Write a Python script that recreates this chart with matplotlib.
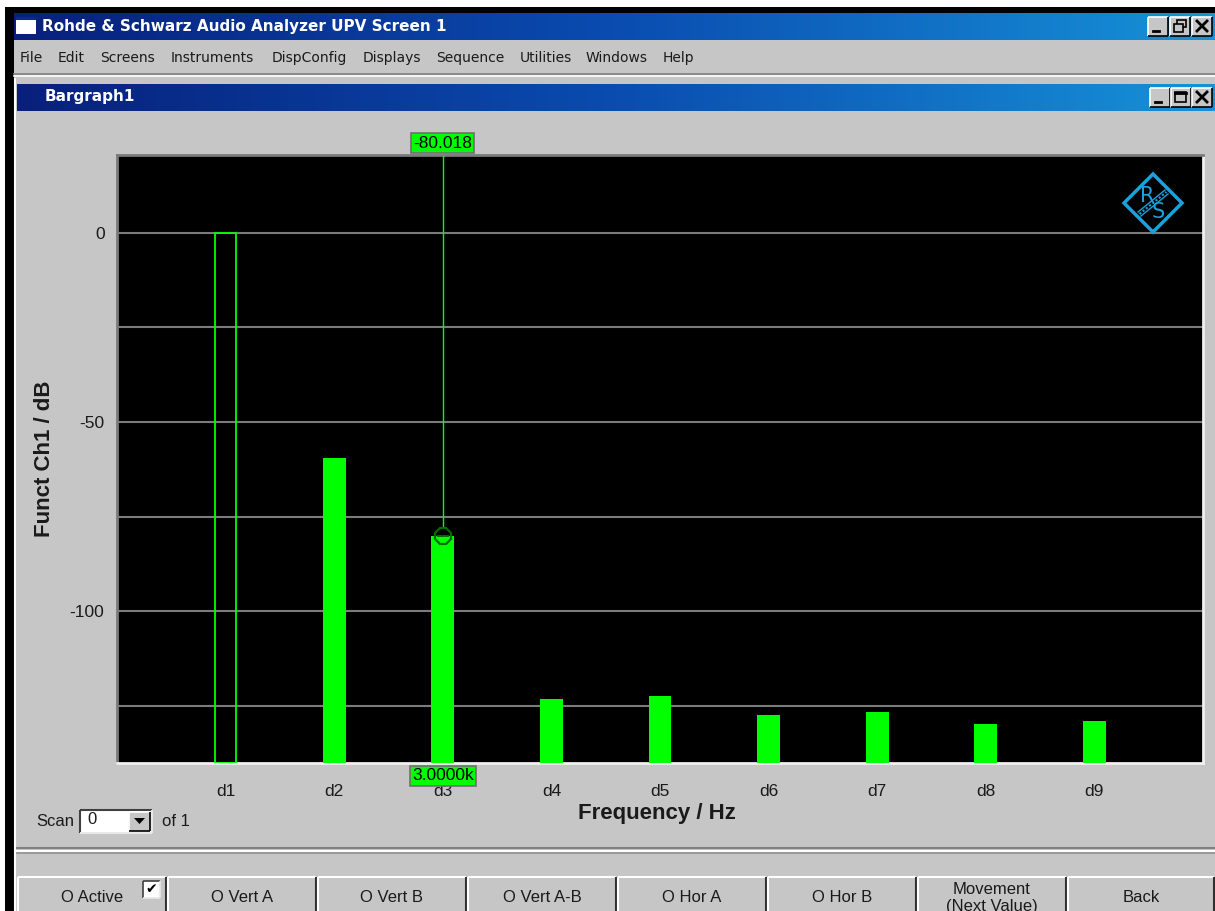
import numpy as np
import matplotlib
matplotlib.use("Agg")
from matplotlib import pyplot as plt
from matplotlib.patches import Rectangle, Polygon
from matplotlib.colors import LinearSegmentedColormap

# harmonic levels (dB)
harmonics = ["d1", "d2", "d3", "d4", "d5", "d6", "d7", "d8", "d9"]
level_db = [0.0, -59.6, -80.018, -123.2, -122.4, -127.4, -126.6, -129.8, -129.0]
fundamental_hz = 1000.0
cursor_index = 2

grid_ticks = [0, -25, -50, -75, -100, -125]
label_ticks = [0, -50, -100]
y_min, y_max = -140, 20.5

menu_items = ["File", "Edit", "Screens", "Instruments", "DispConfig", "Displays",
              "Sequence", "Utilities", "Windows", "Help"]
menu_x = [20, 58, 100, 171, 272, 363, 436, 520, 586, 663]
buttons = ["O Active", "O Vert A", "O Vert B", "O Vert A-B", "O Hor A", "O Hor B",
           "Movement\n(Next Value)", "Back"]

W, H = 1215, 911
GRAY = "#c6c6c6"
GREEN = "#00ff00"
TXT = "#1a1a1a"
UIFONT = "Liberation Sans"

fig = plt.figure(figsize=(W / 100, H / 100), dpi=100)
bg = fig.add_axes([0, 0, 1, 1], zorder=0)
bg.axis("off")


def rect(x0, y0, x1, y1, color, **kw):
    bg.add_patch(Rectangle((x0, y0), x1 - x0, y1 - y0, facecolor=color, edgecolor="none", **kw))


def bevel(x0, y0, x1, y1, light="white", dark="#808080", lw=1.5):
    bg.plot([x0, x1], [y0, y0], color=light, lw=lw, solid_capstyle="butt")
    bg.plot([x0, x0], [y0, y1], color=light, lw=lw, solid_capstyle="butt")
    bg.plot([x0, x1], [y1, y1], color=dark, lw=lw, solid_capstyle="butt")
    bg.plot([x1, x1], [y0, y1], color=dark, lw=lw, solid_capstyle="butt")


def win_button(x0, y0, kind):
    x1, y1 = x0 + 20, y0 + 19
    rect(x0, y0, x1, y1, GRAY)
    bevel(x0, y0, x1, y1, light="white", dark="black", lw=1.2)
    if kind == "min":
        bg.plot([x0 + 5, x0 + 11], [y1 - 5, y1 - 5], color="black", lw=2)
    elif kind == "max":
        bg.add_patch(Rectangle((x0 + 4, y0 + 4), 11, 10, fill=False, ec="black", lw=1.2))
        bg.plot([x0 + 4, x0 + 15], [y0 + 4.5, y0 + 4.5], color="black", lw=2)
    elif kind == "restore":
        bg.add_patch(Rectangle((x0 + 7, y0 + 3), 9, 7, fill=False, ec="black", lw=1.2))
        rect(x0 + 4, y0 + 7, x0 + 13, y0 + 15, GRAY)
        bg.add_patch(Rectangle((x0 + 4, y0 + 7), 9, 8, fill=False, ec="black", lw=1.2))
    else:
        bg.plot([x0 + 5, x0 + 15], [y0 + 4, y0 + 14], color="black", lw=2)
        bg.plot([x0 + 5, x0 + 15], [y0 + 14, y0 + 4], color="black", lw=2)


title_cmap = LinearSegmentedColormap.from_list("title", ["#08207c", "#0a4cb0", "#1792d8"])
grad = np.linspace(0, 1, 256).reshape(1, -1)

# window frame
rect(0, 0, W, H, "white")
rect(5, 7, W, H, "black")
bg.imshow(grad, cmap=title_cmap, extent=(14, W, 40, 13), aspect="auto", zorder=1)
rect(16, 17, 36, 34, "white", zorder=2)
rect(16, 17, 36, 20, "#0a2a8a", zorder=2)
bg.text(42, 27, "Rohde & Schwarz Audio Analyzer UPV Screen 1", color="white",
        fontsize=11, fontweight="bold", family="DejaVu Sans", va="center", zorder=3)
rect(14, 40, W, H, GRAY)
for label, mx in zip(menu_items, menu_x):
    bg.text(mx, 58, label, fontsize=10, family="DejaVu Sans", color=TXT, va="center")
bg.plot([14, W], [74, 74], color="#808080", lw=1.2)
bg.plot([14, W], [76, 76], color="white", lw=1.2)

# sub window
bg.plot([15, 15], [79, H], color="white", lw=1.5)
bg.imshow(grad, cmap=title_cmap, extent=(17, W, 111, 84), aspect="auto", zorder=1)
bg.text(45, 97, "Bargraph1", color="white", fontsize=11, fontweight="bold",
        family="DejaVu Sans", va="center", zorder=3)
for i, kind in enumerate(["min", "restore", "close"]):
    win_button(1148 + 22 * i, 17, kind)
for i, kind in enumerate(["min", "max", "close"]):
    win_button(1150 + 21 * i, 88, kind)

# scan selector
bg.text(36, 822, "Scan", fontsize=12, family=UIFONT, color=TXT, va="center")
rect(80, 810, 152, 833, "white")
bevel(80, 810, 152, 833, light="#404040", dark="#e8e8e8", lw=1.5)
bg.text(87, 820, "0", fontsize=12, family=UIFONT, color=TXT, va="center")
rect(129, 812, 150, 831, GRAY)
bevel(129, 812, 150, 831, light="white", dark="black", lw=1.2)
bg.add_patch(Polygon([[134, 818], [145, 818], [139.5, 824]], closed=True, fc="black"))
bg.text(162, 822, "of 1", fontsize=12, family=UIFONT, color=TXT, va="center")

# bottom soft key panel
bg.plot([17, W], [848, 848], color="#808080", lw=1.5)
bg.plot([17, W], [850.5, 850.5], color="white", lw=1.5)
bg.plot([17, W], [853, 853], color="#909090", lw=1.2)
for i, label in enumerate(buttons):
    x0 = 17 + 150 * i
    x1 = min(x0 + 150, W)
    bevel(x0 + 1, 877, x1 - 1, H + 5, light="white", dark="#303030", lw=1.5)
    bg.text((x0 + x1) / 2, 898, label, fontsize=12, family=UIFONT,
            color=TXT, ha="center", va="center", linespacing=1.15)
rect(143, 881, 160, 898, "white")
bevel(143, 881, 160, 898, light="#404040", dark="#e8e8e8", lw=1.2)
bg.text(151.5, 889.5, "\u2714", fontsize=10, family="DejaVu Sans", color="black",
        ha="center", va="center")

bg.set_xlim(0, W)
bg.set_ylim(H, 0)

# bargraph
ax = fig.add_axes([117 / W, 1 - 763 / H, (1203 - 117) / W, (763 - 155) / H], zorder=2)
ax.set_facecolor("black")
x = np.arange(1, len(harmonics) + 1)
levels = np.array(level_db)
ax.bar(x[0], levels[0] - y_min, bottom=y_min, width=0.19, facecolor="none",
       edgecolor=GREEN, linewidth=1.3, zorder=3)
ax.bar(x[1:], levels[1:] - y_min, bottom=y_min, width=0.21, color=GREEN, zorder=3)

ax.set_xlim(0, len(harmonics) + 1)
ax.set_ylim(y_min, y_max)
ax.set_xticks(x)
ax.set_xticklabels(harmonics, fontsize=12.5, family=UIFONT, color=TXT)
ax.set_yticks(grid_ticks)
ax.set_yticklabels([str(t) if t in label_ticks else "" for t in grid_ticks],
                   fontsize=12.5, family=UIFONT, color=TXT)
ax.tick_params(axis="both", length=0)
ax.tick_params(axis="x", pad=15)
ax.tick_params(axis="y", pad=9)
ax.grid(axis="y", color="#7c7c7c", linewidth=1.5)
ax.set_axisbelow(True)
for side in ["left", "top"]:
    ax.spines[side].set_color("#7a7a7a")
    ax.spines[side].set_linewidth(2)
for side in ["right", "bottom"]:
    ax.spines[side].set_color("#f0f0f0")
    ax.spines[side].set_linewidth(2)

ax.set_ylabel("Funct Ch1 / dB", fontsize=16, fontweight="bold", family=UIFONT, color=TXT)
ax.yaxis.set_label_coords(-0.057, 0.5)
ax.set_xlabel("Frequency / Hz", fontsize=16, fontweight="bold", family=UIFONT, color=TXT)
ax.xaxis.set_label_coords(0.497, -0.066)

# cursor
cx = x[cursor_index]
cy = levels[cursor_index]
ax.vlines(cx, cy + 2, y_max, color=GREEN, linewidth=1, zorder=4)
ax.plot(cx, cy, marker="8", ms=13, mfc="none", mec="#006a00", mew=1.6, zorder=5)
ax.plot(cx, cy, marker="_", ms=9, mec="#006a00", mew=1.4, zorder=5)
ax.annotate(f"{cy:.3f}", xy=(cx, 1), xycoords=("data", "axes fraction"), xytext=(0, 12),
            textcoords="offset pixels", ha="center", va="center", fontsize=12.5, family=UIFONT,
            color="black", annotation_clip=False, zorder=6,
            bbox=dict(boxstyle="square,pad=0.12", fc=GREEN, ec="#707070", lw=1.2))
freq_k = fundamental_hz * (cursor_index + 1) / 1000
ax.annotate(f"{freq_k:.4f}k", xy=(cx, 0), xycoords=("data", "axes fraction"), xytext=(0, -13),
            textcoords="offset pixels", ha="center", va="center", fontsize=12.5, family=UIFONT,
            color="black", annotation_clip=False, zorder=6,
            bbox=dict(boxstyle="square,pad=0.12", fc=GREEN, ec="#707070", lw=1.2))

# R&S logo
top = fig.add_axes([0, 0, 1, 1], zorder=3)
top.set_xlim(0, W)
top.set_ylim(H, 0)
top.axis("off")
top.patch.set_alpha(0)
LOGO = "#1aa2dc"
lx, ly, r = 1153, 203, 29
top.add_patch(Polygon([[lx, ly - r], [lx + r, ly], [lx, ly + r], [lx - r, ly]], closed=True,
                      fill=False, ec=LOGO, lw=2.5))
top.text(lx - 6, ly - 7, "R", color=LOGO, fontsize=15, family="DejaVu Sans", ha="center", va="center")
top.text(lx + 5, ly + 9, "S", color=LOGO, fontsize=15, family="DejaVu Sans", ha="center", va="center")
top.plot([lx - 15, lx + 12], [ly + 9, ly - 13], color=LOGO, lw=1)
top.plot([lx - 12, lx + 15], [ly + 13, ly - 9], color=LOGO, lw=1)
top.plot([lx - 13.5, lx + 13.5], [ly + 11, ly - 11], color=LOGO, lw=1.5, ls=(0, (1, 1)))

plt.savefig("out.png", dpi=100)
